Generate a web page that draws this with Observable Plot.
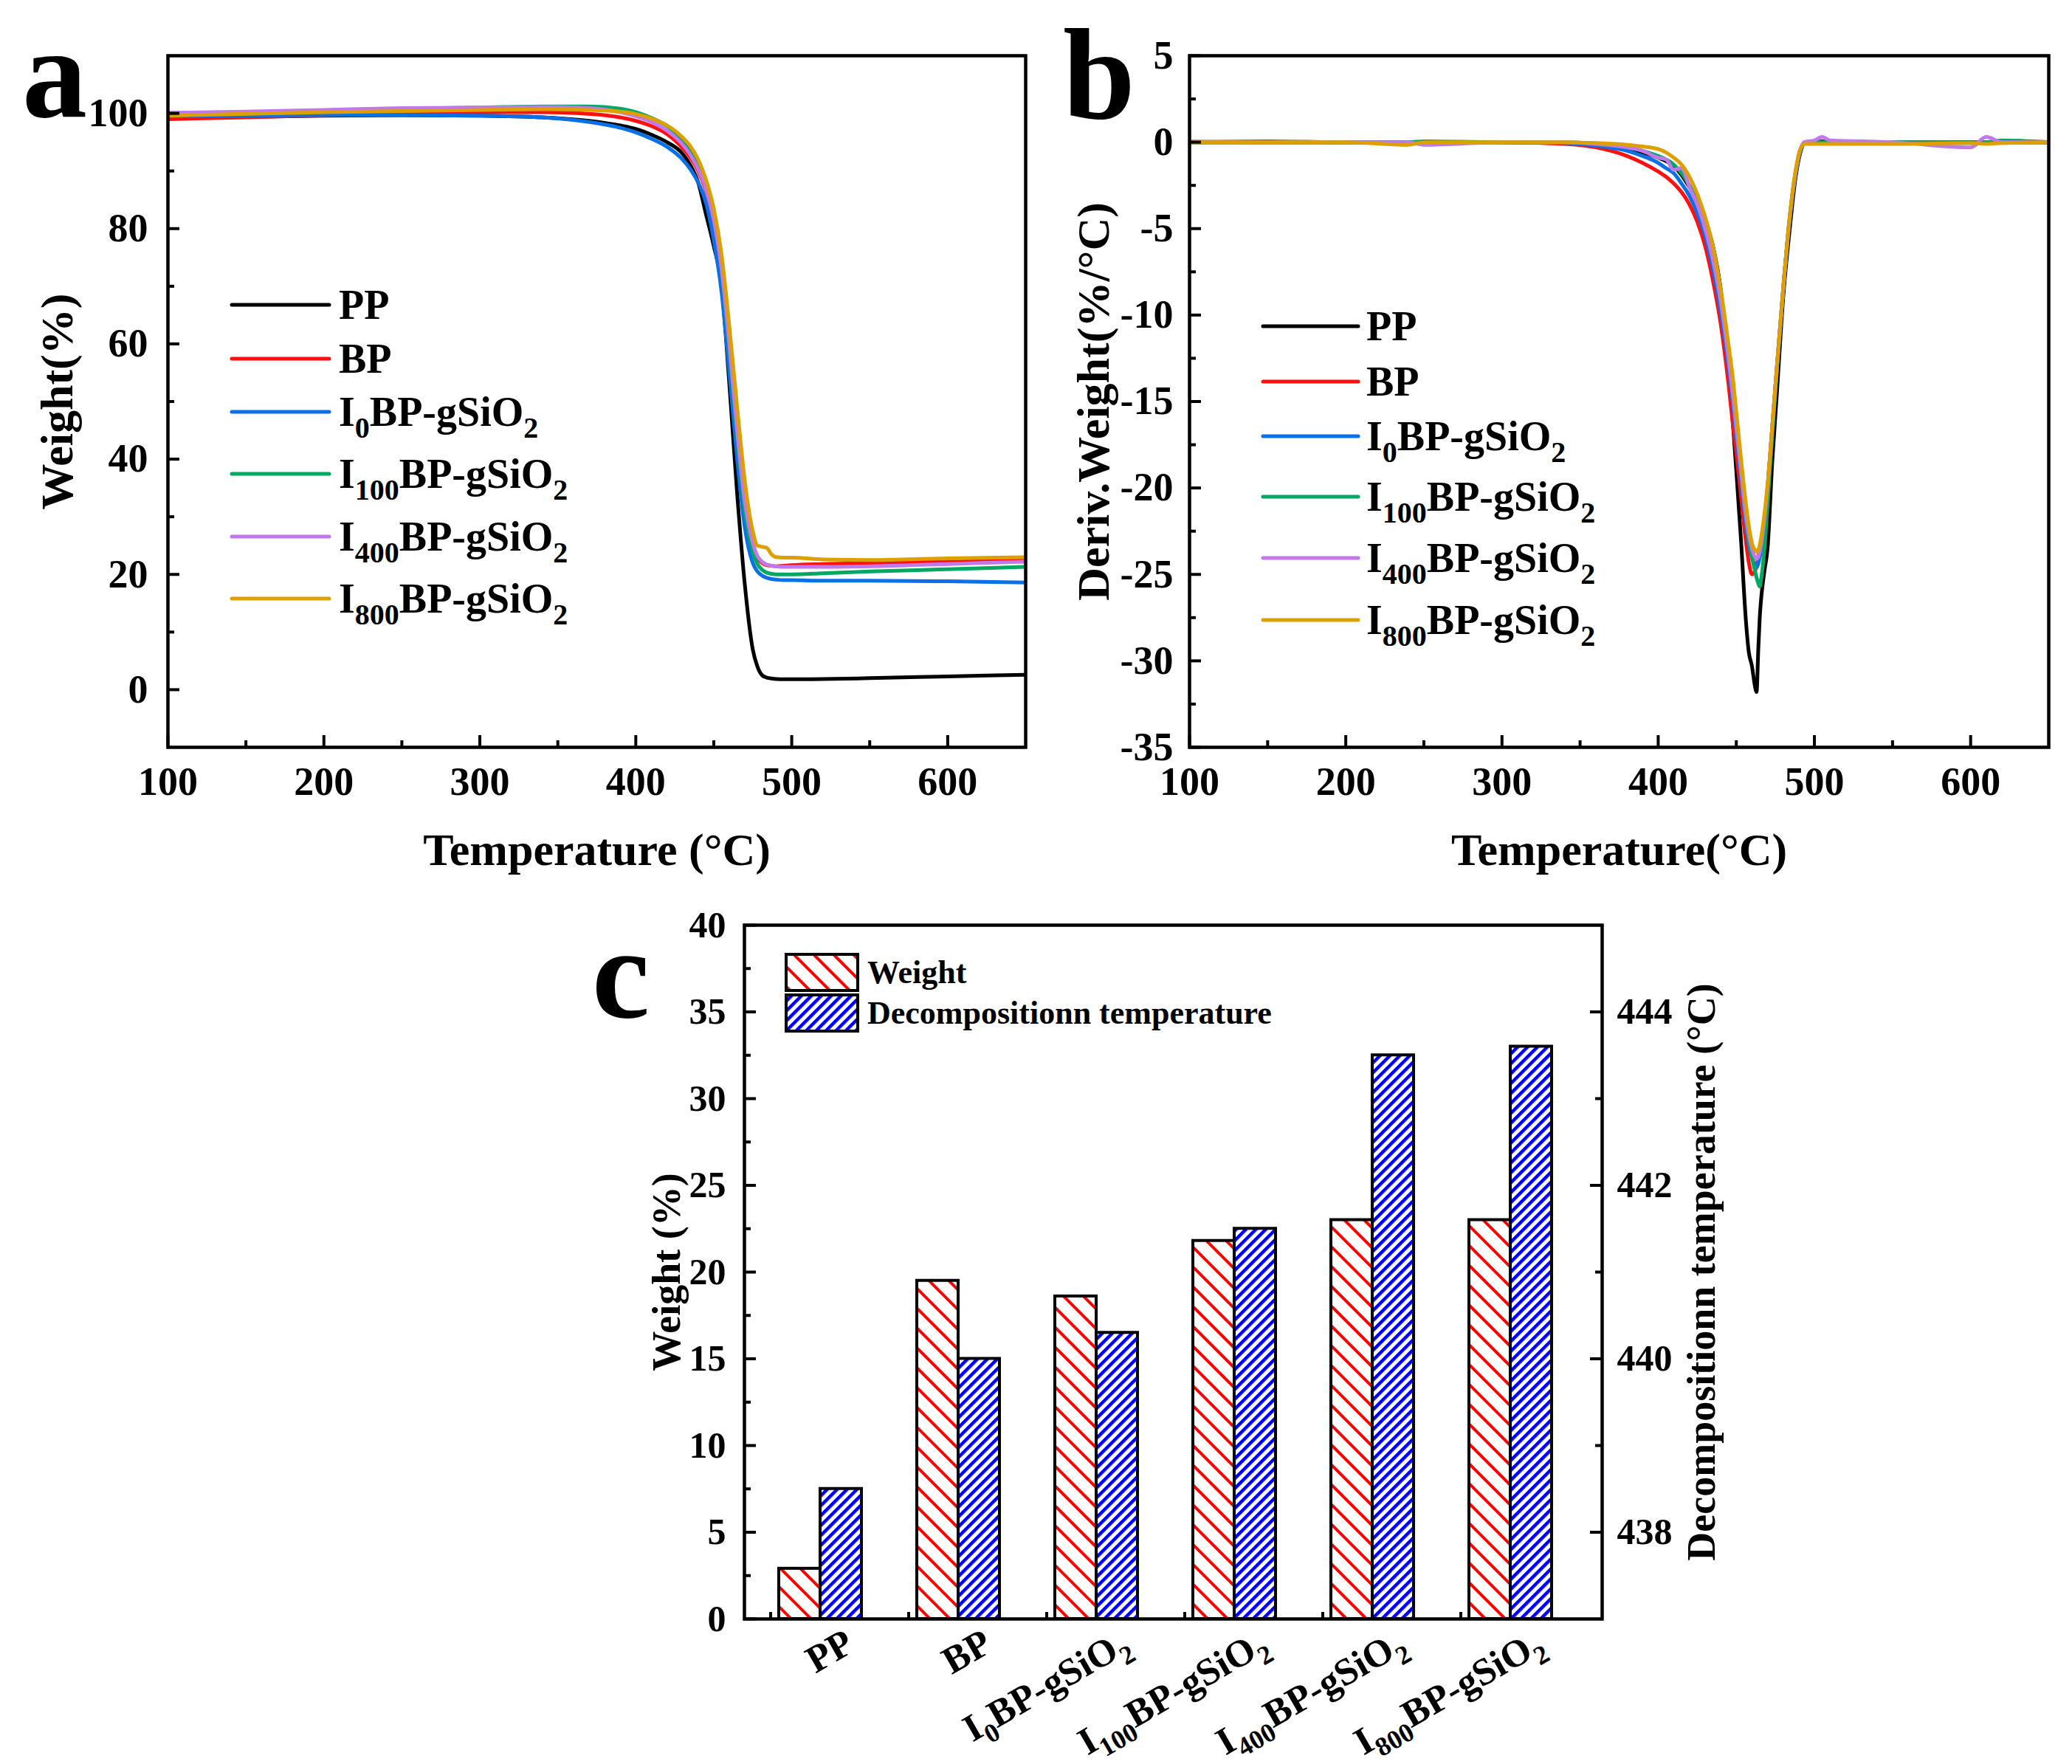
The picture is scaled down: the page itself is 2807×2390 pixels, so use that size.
<!DOCTYPE html>
<html>
<head>
<meta charset="utf-8">
<script src="https://cdn.jsdelivr.net/npm/d3@7"></script>
<script src="https://cdn.jsdelivr.net/npm/@observablehq/plot@0.6"></script>
<style>
html,body{margin:0;padding:0;background:#fff;}
#fig{position:relative;width:2807px;height:2390px;background:#fff;overflow:hidden;}
#fig > svg{position:absolute;max-width:none;}
</style>
</head>
<body>
<div id="fig"></div>
<script>
// ---------------- DATA ----------------
const SERIES = ["PP", "BP", "I0BP-gSiO2", "I100BP-gSiO2", "I400BP-gSiO2", "I800BP-gSiO2"];
const COLORS = ["#000000", "#ff1010", "#0a70e6", "#00a862", "#c078ea", "#dea000"];

// panel a : TGA (weight % vs temperature)
const T_A = [100, 150, 200, 250, 300, 340, 370, 390, 400, 410, 420, 430, 435, 440, 445, 450, 455, 460, 465, 470, 475, 478, 481, 484, 487, 490, 495, 500, 520, 550, 600, 650];
const W_PP   = [99.2, 99.4, 99.6, 99.7, 99.6, 99.3, 98.7, 97.9, 97.3, 96.3, 95, 93, 91, 88, 82.5, 77, 70, 53, 34, 18, 7, 4, 2.5, 2.1, 1.95, 1.85, 1.8, 1.8, 1.85, 2.0, 2.3, 2.6];
const W_BP   = [99.0, 99.3, 99.7, 100.0, 100.2, 100.2, 99.9, 99.3, 98.7, 97.8, 96.4, 94, 92.3, 90, 86.5, 81, 72, 58, 43, 31, 24.5, 22.8, 22.0, 21.6, 21.5, 21.4, 21.5, 21.6, 21.8, 22.0, 22.2, 22.4];
const W_I0   = [99.5, 99.6, 99.7, 99.7, 99.6, 99.3, 98.5, 97.5, 96.7, 95.6, 94.2, 92, 90.3, 88, 84.5, 78, 69, 55, 40, 28, 22, 20.5, 19.8, 19.4, 19.2, 19.1, 19.0, 19.0, 18.9, 18.9, 18.8, 18.6];
const W_I100 = [99.9, 100.2, 100.5, 100.8, 101.0, 101.2, 101.2, 100.8, 100.2, 99.2, 97.8, 95.3, 93.5, 91, 87.5, 82, 73, 59, 44, 31, 24, 21.8, 20.8, 20.3, 20.1, 20.0, 20.0, 20.0, 20.2, 20.5, 20.9, 21.3];
const W_I400 = [100.1, 100.3, 100.6, 100.9, 101.0, 101.1, 100.9, 100.2, 99.5, 98.5, 97.0, 94.6, 92.8, 90.3, 86.8, 81.5, 73, 60, 45, 32.5, 25.5, 23.2, 22.2, 21.7, 21.5, 21.4, 21.3, 21.3, 21.3, 21.4, 21.8, 22.2];
const W_I800 = [99.6, 99.9, 100.2, 100.4, 100.6, 100.7, 100.6, 100.3, 99.9, 99.1, 97.9, 95.8, 94.3, 92, 88.5, 83.5, 75.5, 63, 49, 36, 27.5, 25, 24.8, 24.6, 23.5, 23.0, 22.9, 22.9, 22.6, 22.5, 22.8, 23.0];

// panel b : DTG (derivative weight vs temperature)
const T_B = [100, 150, 200, 240, 250, 300, 340, 360, 380, 390, 400, 405, 410, 415, 420, 425, 430, 435, 440, 445, 448, 450, 453, 456, 458, 460, 462, 463, 464, 465, 466, 468, 470, 473, 476, 480, 484, 488, 491, 494, 500, 505, 510, 550, 600, 610, 620, 650];
const D_PP   = [0, 0, 0, 0, 0, 0, -0.05, -0.2, -0.4, -0.6, -0.9, -1.1, -1.4, -1.9, -2.6, -3.4, -4.5, -6, -8.5, -13, -16.5, -19, -23, -27.5, -29.5, -30.3, -31.5, -31.8, -29.5, -27.5, -26.3, -24.8, -23.5, -18.5, -14.5, -9, -5.2, -2, -0.6, 0, 0, 0.05, 0, 0, 0, 0, 0, 0];
const D_BP   = [0, 0, 0, -0.05, 0, 0, -0.1, -0.3, -0.8, -1.2, -1.7, -2.0, -2.4, -2.9, -3.6, -4.6, -6.0, -8, -10.5, -14, -16.5, -18, -20.5, -23, -24.3, -25, -24.8, -24.5, -24, -23.5, -23, -21.8, -20, -16.5, -13, -8.5, -4.6, -1.8, -0.5, 0, 0, 0, 0, 0, 0, 0, 0, 0];
const D_I0   = [0, 0.05, 0, 0, 0, 0, -0.05, -0.2, -0.5, -0.8, -1.2, -1.5, -1.8, -2.4, -3.1, -4.1, -5.4, -7.3, -9.8, -13, -15.3, -17, -19.5, -22, -23.3, -24, -24.5, -24.6, -24.4, -24, -23.5, -22, -20, -16.5, -13, -8.5, -4.6, -1.8, -0.5, 0, 0, 0, 0, 0, -0.05, 0, 0, 0];
const D_I100 = [0, 0, 0, 0, 0.05, 0, 0, -0.1, -0.3, -0.5, -0.8, -1.0, -1.3, -1.8, -2.5, -3.5, -4.8, -6.6, -9, -12.3, -14.6, -16.3, -19, -21.6, -23, -24, -24.8, -25.2, -25.5, -25.7, -25.2, -23.5, -21, -17, -13.2, -8.5, -4.5, -1.7, -0.5, 0, 0, 0, 0, 0, 0, 0, 0.1, 0];
const D_I400 = [0.05, 0, 0, 0, -0.15, 0, 0, -0.1, -0.3, -0.5, -0.9, -1.0, -1.6, -1.5, -2.6, -3.6, -5, -6.8, -9.2, -12.5, -14.8, -16.5, -19, -21.5, -22.7, -23.5, -24, -24.1, -24, -23.7, -23.2, -21.8, -20, -16.5, -13, -8.5, -4.5, -1.7, -0.4, 0, 0.1, 0.3, 0.1, 0, -0.3, 0.3, 0, 0];
const D_I800 = [0, 0, 0, -0.15, 0, 0, 0, -0.05, -0.15, -0.25, -0.4, -0.6, -0.9, -1.3, -2.0, -3.0, -4.3, -6.0, -8.5, -11.7, -13.8, -15.6, -18.3, -20.8, -22.2, -23.2, -23.6, -23.7, -23.6, -23.3, -22.8, -21.5, -19.8, -16.5, -13, -8.5, -4.5, -1.6, -0.4, -0.1, -0.1, -0.1, -0.1, -0.1, -0.05, -0.1, -0.05, 0];

// panel c : bars
const CATEGORIES = ["PP", "BP", "I0BP-gSiO2", "I100BP-gSiO2", "I400BP-gSiO2", "I800BP-gSiO2"];
const WEIGHT = [2.9, 19.5, 18.6, 21.8, 23.0, 23.0];
const DECOMP_T = [438.5, 440.0, 440.3, 441.5, 443.5, 443.6];

// axes
const X_DOMAIN = [100, 650];
const X_MAJOR = [100, 200, 300, 400, 500, 600];
const X_MINOR = [150, 250, 350, 450, 550];
const YA_DOMAIN = [-10, 110];
const YA_MAJOR = [0, 20, 40, 60, 80, 100];
const YA_MINOR = [10, 30, 50, 70, 90];
const YB_DOMAIN = [-35, 5];
const YB_MAJOR = [5, 0, -5, -10, -15, -20, -25, -30, -35];
const YB_MINOR = [2.5, -2.5, -7.5, -12.5, -17.5, -22.5, -27.5, -32.5];
const YC_DOMAIN = [0, 40];
const YC_MAJOR = [0, 5, 10, 15, 20, 25, 30, 35, 40];
const YC_MINOR = [2.5, 7.5, 12.5, 17.5, 22.5, 27.5, 32.5, 37.5];
const YT_DOMAIN = [437, 445];
const YT_MAJOR = [438, 440, 442, 444];
const YT_MINOR = [439, 441, 443];

const TGA = [W_PP, W_BP, W_I0, W_I100, W_I400, W_I800];
const DTG = [D_PP, D_BP, D_I0, D_I100, D_I400, D_I800];

// ---------------- RENDER ----------------
const FONT = "'Liberation Serif','Times New Roman',Times,serif";
const fig = document.getElementById("fig");
const baseStyle = {fontFamily: FONT, fontWeight: "bold", fontSize: "54px", color: "#000", background: "transparent", overflow: "visible"};
function place(svg, left, top) {
  svg.style.left = left + "px"; svg.style.top = top + "px"; svg.style.maxWidth = "none";
  fig.appendChild(svg);
}
const fmt = d => String(d);

function curvePlot(rowsT, rowsV, cfg) {
  const rows = SERIES.flatMap((s, k) => rowsT.map((t, i) => ({series: s, t, v: rowsV[k][i]})));
  const fw = cfg.w - cfg.ml - cfg.mr, fh = cfg.h - cfg.mt - cfg.mb;
  return Plot.plot({
    width: cfg.w, height: cfg.h, marginLeft: cfg.ml, marginTop: cfg.mt, marginRight: cfg.mr, marginBottom: cfg.mb,
    style: baseStyle,
    x: {domain: X_DOMAIN}, y: {domain: cfg.yDomain},
    color: {domain: SERIES, range: COLORS},
    marks: [
      Plot.line(rows, {x: "t", y: "v", z: "series", stroke: "series", strokeWidth: 5, curve: "monotone-x", clip: true}),
      Plot.ruleX(X_MAJOR, {x: d => d, insetTop: fh - 16, strokeWidth: 4}),
      Plot.ruleX(X_MINOR, {x: d => d, insetTop: fh - 9, strokeWidth: 4}),
      Plot.ruleY(cfg.yMajor, {y: d => d, insetRight: fw - 16, strokeWidth: 4}),
      Plot.ruleY(cfg.yMinor, {y: d => d, insetRight: fw - 9, strokeWidth: 4}),
      Plot.frame({stroke: "#000", strokeWidth: 4.5}),
      Plot.axisX({ticks: X_MAJOR, tickSize: 0, tickPadding: 26, tickFormat: fmt, fontSize: 54, label: null}),
      Plot.axisY({ticks: cfg.yMajor, tickSize: 0, tickPadding: cfg.yPad, tickFormat: fmt, fontSize: 54, label: null}),
      Plot.text([cfg.xTitle], {text: d => d, frameAnchor: "bottom", dy: 140, fontSize: 62, lineAnchor: "middle", textAnchor: "middle"}),
      Plot.text([cfg.yTitle], {text: d => d, frameAnchor: "left", dx: cfg.yTitleDx, rotate: -90, fontSize: 62, lineAnchor: "middle", textAnchor: "middle"})
    ]
  });
}

const plotA = curvePlot(T_A, TGA, {w: 1420, h: 1200, ml: 227, mt: 75, mr: 31, mb: 188, yDomain: YA_DOMAIN, yMajor: YA_MAJOR, yMinor: YA_MINOR, yPad: 27, xTitle: "Temperature (°C)", yTitle: "Weight(%)", yTitleDx: -149});
place(plotA, 0, 0);
const plotB = curvePlot(T_B, DTG, {w: 1407, h: 1200, ml: 211, mt: 75, mr: 32, mb: 188, yDomain: YB_DOMAIN, yMajor: YB_MAJOR, yMinor: YB_MINOR, yPad: 22, xTitle: "Temperature(°C)", yTitle: "Deriv.Weight(%/°C)", yTitleDx: -129});
place(plotB, 1400, 0);

// panel c
const barRows = CATEGORIES.map((c, i) => ({cat: c, weight: WEIGHT[i], temp: DECOMP_T[i]}));
const C = {left: 780, top: 1200, w: 1600, h: 1190, ml: 228, mt: 53, mr: 210, mb: 197};
const fwC = C.w - C.ml - C.mr, fhC = C.h - C.mt - C.mb;
const STEP = 187, HALF = STEP / 2, BARW = 56, FIRST = 331;
const xC = {type: "band", domain: CATEGORIES, range: [FIRST - HALF, FIRST + (CATEGORIES.length - 1) * STEP + HALF], paddingInner: 0, paddingOuter: 0, round: false};

const plotC1 = Plot.plot({
  width: C.w, height: C.h, marginLeft: C.ml, marginTop: C.mt, marginRight: C.mr, marginBottom: C.mb,
  style: baseStyle, x: xC, y: {domain: YC_DOMAIN},
  marks: [
    Plot.barY(barRows, {x: "cat", y: "weight", fill: "url(#hatchRed)", stroke: "#000", strokeWidth: 4, insetLeft: HALF - BARW, insetRight: HALF}),
    Plot.ruleX(CATEGORIES, {x: d => d, dx: 26, insetTop: fhC - 16, strokeWidth: 4}),
    Plot.ruleX(CATEGORIES, {x: d => d, dx: 26 - HALF, insetTop: fhC - 9, strokeWidth: 4}),
    Plot.ruleY(YC_MAJOR, {y: d => d, insetRight: fwC - 16, strokeWidth: 4}),
    Plot.ruleY(YC_MINOR, {y: d => d, insetRight: fwC - 9, strokeWidth: 4}),
    Plot.frame({stroke: "#000", strokeWidth: 4.5}),
    Plot.axisX({tickSize: 0, tickRotate: -30, tickPadding: 28, dx: 40, fontSize: 52, label: null}),
    Plot.axisY({ticks: YC_MAJOR, tickSize: 0, tickPadding: 25, tickFormat: fmt, fontSize: 50, label: null}),
    Plot.text(["Weight (%)"], {text: d => d, frameAnchor: "left", dx: -105, rotate: -90, fontSize: 54, lineAnchor: "middle", textAnchor: "middle"})
  ]
});
place(plotC1, C.left, C.top);

const plotC2 = Plot.plot({
  width: C.w, height: C.h, marginLeft: C.ml, marginTop: C.mt, marginRight: C.mr, marginBottom: C.mb,
  style: baseStyle, x: {...xC, axis: null}, y: {domain: YT_DOMAIN},
  marks: [
    Plot.barY(barRows, {x: "cat", y1: () => YT_DOMAIN[0], y2: "temp", fill: "url(#hatchBlue)", stroke: "#000", strokeWidth: 4, insetLeft: HALF, insetRight: HALF - BARW}),
    Plot.ruleY(YT_MAJOR, {y: d => d, insetLeft: fwC - 16, strokeWidth: 4}),
    Plot.ruleY(YT_MINOR, {y: d => d, insetLeft: fwC - 9, strokeWidth: 4}),
    Plot.axisY({anchor: "right", ticks: YT_MAJOR, tickSize: 0, tickPadding: 20, tickFormat: fmt, fontSize: 50, label: null}),
    Plot.text(["Decompositionn temperature (°C)"], {text: d => d, frameAnchor: "right", dx: 135, rotate: -90, fontSize: 54, lineAnchor: "middle", textAnchor: "middle"})
  ]
});
place(plotC2, C.left, C.top);

// subscript helper for SVG text
const SUBRE = /^I(\d+)(BP-gSiO)(\d)$/;
function richFill(textNode, label, fs, subFs, subDy) {
  const m = label.match(SUBRE);
  while (textNode.firstChild) textNode.removeChild(textNode.firstChild);
  const ns = "http://www.w3.org/2000/svg";
  const add = (s, size, dy) => {
    const t = document.createElementNS(ns, "tspan");
    t.textContent = s; t.setAttribute("font-size", size);
    if (dy) t.setAttribute("dy", dy);
    textNode.appendChild(t);
  };
  if (!m) { add(label, fs, 0); return; }
  add("I", fs, 0); add(m[1], subFs, subDy); add(m[2], fs, -subDy); add(m[3], subFs, subDy);
}
plotC1.querySelectorAll('g[aria-label="x-axis tick label"] text').forEach(t => richFill(t, t.textContent, 52, 36, 14));

// overlay : panel letters, legends, patterns
const ov = d3.create("svg").attr("width", 2807).attr("height", 2390)
  .attr("font-family", FONT).attr("font-weight", "bold")
  .style("left", "0px").style("top", "0px").style("pointer-events", "none");
const defs = ov.append("defs");
const pr = defs.append("pattern").attr("id", "hatchRed").attr("patternUnits", "userSpaceOnUse")
  .attr("width", 19).attr("height", 19).attr("patternTransform", "rotate(45)");
pr.append("rect").attr("width", 19).attr("height", 19).attr("fill", "#fff");
pr.append("rect").attr("width", 19).attr("height", 4).attr("fill", "#ff0000");
const pb = defs.append("pattern").attr("id", "hatchBlue").attr("patternUnits", "userSpaceOnUse")
  .attr("width", 9.5).attr("height", 9.5).attr("patternTransform", "rotate(-45)");
pb.append("rect").attr("width", 9.5).attr("height", 9.5).attr("fill", "#fff");
pb.append("rect").attr("width", 9.5).attr("height", 4.5).attr("fill", "#0000ff");

[["a", 30, 158], ["b", 1440, 160], ["c", 802, 1378]].forEach(([s, x, y]) =>
  ov.append("text").attr("x", x).attr("y", y).attr("font-size", 176).text(s));

function lineLegend(x1, x2, tx, ys) {
  SERIES.forEach((s, i) => {
    ov.append("line").attr("x1", x1).attr("x2", x2).attr("y1", ys[i]).attr("y2", ys[i])
      .attr("stroke", COLORS[i]).attr("stroke-width", 5).attr("stroke-linecap", "round");
    const t = ov.append("text").attr("x", tx).attr("y", ys[i] + 19).attr("font-size", 56);
    richFill(t.node(), s, 56, 40, 16);
  });
}
lineLegend(314, 446, 459, [413, 486, 558, 642, 727, 811]);
lineLegend(1711, 1840, 1851, [442, 517, 591, 673, 756, 840]);

[["Weight", "url(#hatchRed)", 1293], ["Decompositionn temperature", "url(#hatchBlue)", 1348]].forEach(([s, f, y]) => {
  ov.append("rect").attr("x", 1065).attr("y", y).attr("width", 97).attr("height", 49)
    .attr("fill", f).attr("stroke", "#000").attr("stroke-width", 4);
  ov.append("text").attr("x", 1175).attr("y", y + 39).attr("font-size", 44).text(s);
});
fig.appendChild(ov.node());
</script>
</body>
</html>
